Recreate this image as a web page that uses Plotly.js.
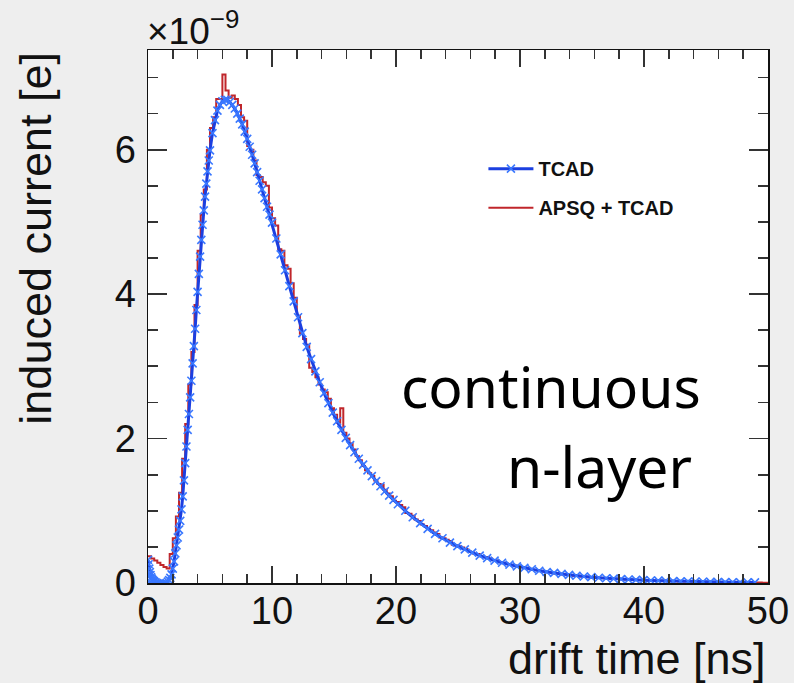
<!DOCTYPE html>
<html>
<head>
<meta charset="utf-8">
<script src="https://cdn.plot.ly/plotly-3.0.1.min.js"></script>
<style>
html,body{margin:0;padding:0;background:#eeeeee;}
#chart{width:794px;height:683px;}
</style>
</head>
<body>
<div id="chart"></div>
<script>
// ---- data (current in units of 1e-9 e, time in ns) ----
const tcadT = [0,0.05,0.1,0.15,0.2,0.25,0.3,0.35,0.4,0.45,0.5,0.6,0.7,0.8,0.9,1.0,1.1,1.2,1.3,1.4,1.5,1.6,1.7,1.8,1.9,2.0,2.1,2.2,2.3,2.4,2.5,2.6,2.7,2.8,2.9,3.0,3.1,3.2,3.3,3.4,3.5,3.6,3.7,3.8,3.9,4.0,4.1,4.2,4.3,4.4,4.5,4.6,4.7,4.8,4.9,5.0,5.2,5.4,5.6,5.8,6.0,6.2,6.4,6.6,6.8,7.0,7.2,7.4,7.6,7.8,8.0,8.2,8.4,8.6,8.8,9.0,9.2,9.4,9.6,9.8,10.0,10.35,10.7,11.05,11.4,11.75,12.1,12.45,12.8,13.15,13.5,13.85,14.2,14.55,14.9,15.25,15.6,15.95,16.3,16.65,17.0,17.35,17.7,18.05,18.4,18.75,19.1,19.45,19.8,20.15,20.75,21.35,21.95,22.55,23.15,23.75,24.35,24.95,25.55,26.15,26.75,27.35,27.95,28.55,29.15,29.75,30.35,30.95,31.55,32.15,32.75,33.35,33.95,34.55,35.15,35.75,36.35,36.95,37.55,38.15,38.75,39.35,39.95,40.55,41.15,41.75,42.35,42.95,43.55,44.15,44.75,45.35,45.95,46.55,47.15,47.75,48.35,48.95];
const tcadI = [0.32,0.26,0.2,0.15,0.11,0.08,0.06,0.045,0.035,0.025,0.02,0.01,0.0,-0.01,-0.015,-0.02,-0.02,-0.02,-0.015,-0.01,0.0,0.02,0.04,0.07,0.12,0.2,0.3,0.41,0.52,0.63,0.74,0.86,1.02,1.2,1.42,1.66,1.89,2.12,2.34,2.57,2.8,3.04,3.28,3.52,3.78,4.03,4.28,4.52,4.75,4.96,5.16,5.35,5.53,5.70,5.85,5.99,6.23,6.41,6.54,6.62,6.67,6.69,6.69,6.66,6.62,6.57,6.5,6.43,6.35,6.25,6.15,6.04,5.93,5.81,5.69,5.57,5.45,5.33,5.21,5.1,4.99,4.77,4.55,4.33,4.11,3.9,3.68,3.46,3.27,3.1,2.93,2.78,2.63,2.49,2.36,2.24,2.12,2.01,1.91,1.81,1.72,1.64,1.56,1.48,1.41,1.34,1.27,1.21,1.15,1.09,1.0,0.91,0.83,0.75,0.68,0.62,0.56,0.51,0.465,0.42,0.38,0.345,0.31,0.28,0.255,0.23,0.21,0.19,0.17,0.153,0.14,0.126,0.113,0.1,0.09,0.081,0.073,0.066,0.06,0.054,0.049,0.044,0.039,0.035,0.032,0.029,0.026,0.023,0.021,0.019,0.017,0.015,0.013,0.012,0.011,0.01,0.009,0.008];

// APSQ + TCAD histogram, 0.25 ns bins from 0 to 50 ns
const apsqBinStart = 0;
const apsqBinWidth = 0.25;
const apsqI = [
0.37,0.34,0.31,0.28,0.25,0.22,0.20,0.40,
0.62,0.92,1.25,1.72,2.2,2.75,3.2,3.85,4.6,5.1,5.45,6.0,
6.3,6.45,6.7,6.7,7.04,6.82,6.72,6.75,6.7,6.62,6.45,6.4,
6.05,6.0,5.85,5.65,5.62,5.55,5.5,5.2,5.05,4.95,4.62,4.6,4.4,4.35,4.15,3.95,
3.7,3.45,3.38,3.3,2.98,2.92,2.85,2.75,2.68,2.64,2.55,2.42,2.33,2.22,2.42,2.08,
2.0,1.93,1.85,1.76,1.7,1.62,1.56,1.52,1.48,1.42,1.37,1.36,1.29,1.24,1.2,1.14,
1.12,1.08,1.05,0.97,0.96,0.93,0.88,0.86,0.81,0.79,0.75,0.73,0.70,0.68,0.63,0.62,
0.60,0.58,0.53,0.52,0.51,0.49,0.47,0.44,0.43,0.40,0.40,0.37,0.36,0.36,0.34,0.32,
0.31,0.29,0.28,0.27,0.26,0.25,0.24,0.23,0.22,0.21,0.21,0.19,0.18,0.18,0.17,0.16,
0.15,0.15,0.14,0.13,0.13,0.12,0.12,0.11,0.11,0.10,0.10,0.09,0.09,0.085,0.08,0.08,
0.075,0.075,0.07,0.065,0.065,0.06,0.06,0.055,0.055,0.05,0.05,0.045,0.045,0.045,0.04,0.04,
0.04,0.035,0.035,0.03,0.03,0.03,0.03,0.025,0.025,0.025,0.025,0.02,0.02,0.02,0.02,0.02,
0.02,0.015,0.015,0.015,0.015,0.015,0.015,0.01,0.01,0.01,0.01,0.01,0.01,0.01,0.01,0.008,
0.008,0.008,0.008,0.006,0.006,0.006,0.005,0.005];

const xTickVals = [0,10,20,30,40,50];
const yTickVals = [0,2,4,6];
const scale = 1e-9;

// ---- build traces ----
const apsqX = [], apsqY = [];
for (let i = 0; i < apsqI.length; i++) {
  apsqX.push(apsqBinStart + i * apsqBinWidth);
  apsqY.push(apsqI[i] * scale);
}
apsqX.push(apsqBinStart + apsqI.length * apsqBinWidth);
apsqY.push(apsqI[apsqI.length - 1] * scale);

const traces = [
  {
    x: apsqX, y: apsqY, type: 'scatter', mode: 'lines',
    line: {shape: 'hv', color: '#c0262b', width: 2},
    name: 'APSQ + TCAD', legendrank: 2, legendgroup: 'b'
  },
  {
    // drawn on the overlay axes (same ranges) so it sits on top and the top/right ticks get drawn
    x: tcadT, y: tcadI.map(v => v * scale), type: 'scatter', mode: 'lines+markers',
    xaxis: 'x2', yaxis: 'y2',
    line: {color: '#1c3fe0', width: 3},
    marker: {symbol: 'x-thin-open', size: 8, line: {color: '#3a78ff', width: 1.6}, color: '#3a78ff'},
    name: 'TCAD', legendrank: 1, legendgroup: 'a'
  }
];

const tickFont = {family: 'Liberation Sans, Arial, sans-serif', size: 38, color: '#111'};
const titleFont = {family: 'Liberation Sans, Arial, sans-serif', size: 45, color: '#111'};
const noteFont = {family: 'Noto Sans, sans-serif', size: 57, color: '#000'};

const xRange = [0, 50];
const yRange = [0, 7.38e-9];
const tickCol = '#333';
const tickW = 1.7;

const layout = {
  width: 794, height: 683,
  margin: {l: 148, r: 26, t: 50, b: 100},
  paper_bgcolor: '#eeeeee',
  plot_bgcolor: '#ffffff',
  showlegend: true,
  legend: {
    x: 0.541, y: 0.814, xanchor: 'left', yanchor: 'top',
    bgcolor: 'rgba(0,0,0,0)',
    font: {family: 'Liberation Sans, Arial, sans-serif', size: 20, color: '#111', weight: 'bold'},
    tracegroupgap: 10, itemwidth: 45
  },
  xaxis: {
    range: xRange, tickvals: xTickVals, ticktext: xTickVals.map(String),
    ticks: 'inside', ticklen: 17, tickwidth: tickW, tickcolor: tickCol,
    minor: {dtick: 2, ticks: 'inside', ticklen: 9, tickwidth: tickW, tickcolor: tickCol},
    showline: true, linecolor: '#111', linewidth: 1.5, mirror: true,
    showgrid: false, zeroline: false,
    tickfont: tickFont, ticklabelstandoff: -6
  },
  yaxis: {
    range: yRange, tickvals: yTickVals.map(v => v * scale), ticktext: yTickVals.map(String),
    ticks: 'inside', ticklen: 19, tickwidth: tickW, tickcolor: tickCol,
    minor: {dtick: 0.5e-9, ticks: 'inside', ticklen: 10, tickwidth: tickW, tickcolor: tickCol},
    showline: true, linecolor: '#111', linewidth: 1.5, mirror: true,
    showgrid: false, zeroline: false,
    tickfont: tickFont, ticklabelstandoff: 3
  },
  xaxis2: {
    overlaying: 'x', side: 'top', anchor: 'y2', range: xRange, tickvals: xTickVals,
    showticklabels: false, ticks: 'inside', ticklen: 17, tickwidth: tickW, tickcolor: tickCol,
    minor: {dtick: 2, ticks: 'inside', ticklen: 9, tickwidth: tickW, tickcolor: tickCol},
    showline: false, showgrid: false, zeroline: false
  },
  yaxis2: {
    overlaying: 'y', side: 'right', anchor: 'x2', range: yRange, tickvals: yTickVals.map(v => v * scale),
    showticklabels: false, ticks: 'inside', ticklen: 19, tickwidth: tickW, tickcolor: tickCol,
    minor: {dtick: 0.5e-9, ticks: 'inside', ticklen: 10, tickwidth: tickW, tickcolor: tickCol},
    showline: false, showgrid: false, zeroline: false
  },
  annotations: [
    {text: 'drift time [ns]', xref: 'paper', yref: 'paper', x: 1, y: -0.09,
     xanchor: 'right', yanchor: 'top', showarrow: false, font: titleFont},
    {text: 'induced current [e]', xref: 'paper', yref: 'paper', x: -0.182, y: 1,
     xanchor: 'center', yanchor: 'top', textangle: -90, showarrow: false, font: titleFont},
    {text: '×10<sup>−9</sup>', xref: 'paper', yref: 'paper', x: -0.005, y: 1,
     xanchor: 'left', yanchor: 'bottom', yshift: -4, showarrow: false,
     font: {family: 'Liberation Sans, Arial, sans-serif', size: 37, color: '#111'}},
    {text: 'continuous', xref: 'paper', yref: 'paper', x: 0.895, y: 0.292,
     xanchor: 'right', yanchor: 'bottom', showarrow: false, font: noteFont},
    {text: 'n-layer', xref: 'paper', yref: 'paper', x: 0.88, y: 0.1435,
     xanchor: 'right', yanchor: 'bottom', showarrow: false, font: noteFont}
  ]
};

Plotly.newPlot('chart', traces, layout, {displayModeBar: false, staticPlot: true});
</script>
</body>
</html>
